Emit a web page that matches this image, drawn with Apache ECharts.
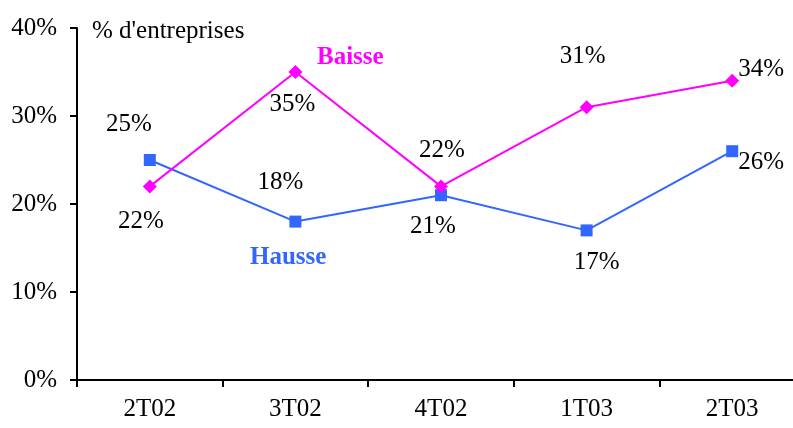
<!DOCTYPE html>
<html>
<head>
<meta charset="utf-8">
<script src="https://cdn.jsdelivr.net/npm/echarts@6/dist/echarts.min.js"></script>
<style>
  html, body { margin: 0; padding: 0; background: #fff; }
  #chart { width: 793px; height: 428px; }
</style>
</head>
<body>
<div id="chart"></div>
<script>
const quarters = ['2T02', '3T02', '4T02', '1T03', '2T03'];
const hausse = [25, 18, 21, 17, 26];
const baisse = [22, 35, 22, 31, 34];
// label offsets [dx, dy] for each point
const hausseLabelOffsets = [[-21, -36], [-15, -39], [-8, 31], [10, 32], [29, 11]];
const baisseLabelOffsets = [[-9, 35], [-3, 32], [1, -36], [-4, -51], [29, -11]];

const font = '"Liberation Serif", "Times New Roman", serif';
const fs = 25;

function makeData(values, offsets) {
  return values.map(function (v, i) {
    return {
      value: v,
      label: {
        show: true,
        position: 'inside',
        offset: offsets[i],
        formatter: '{c}%',
        color: '#000',
        fontFamily: font,
        fontSize: fs
      }
    };
  });
}

const chart = echarts.init(document.getElementById('chart'));

chart.setOption({
  animation: false,
  textStyle: { fontFamily: font },
  title: {
    text: "% d'entreprises",
    left: 87,
    top: 14,
    textStyle: { fontFamily: font, fontSize: fs, fontWeight: 'normal', color: '#000' }
  },
  graphic: [
    {
      type: 'text', left: 317, top: 45,
      style: { text: 'Baisse', fill: '#FF00FF', font: 'bold 25px "Liberation Serif", serif' }
    },
    {
      type: 'text', left: 250, top: 245,
      style: { text: 'Hausse', fill: '#3366FF', font: 'bold 25px "Liberation Serif", serif' }
    }
  ],
  grid: { left: 77, width: 728, top: 28, bottom: 48, outerBoundsMode: 'none', containLabel: false },
  xAxis: {
    type: 'category',
    data: quarters,
    boundaryGap: true,
    axisLine: { lineStyle: { color: '#000', width: 2 } },
    axisTick: { show: true, length: 7, lineStyle: { color: '#000', width: 2 } },
    axisLabel: { color: '#000', fontSize: fs, fontFamily: font, margin: 17 },
    splitLine: { show: false }
  },
  yAxis: {
    type: 'value',
    min: 0,
    max: 40,
    interval: 10,
    axisLine: { show: true, lineStyle: { color: '#000', width: 2 } },
    axisTick: { show: true, length: 7, lineStyle: { color: '#000', width: 2 } },
    axisLabel: { color: '#000', fontSize: fs, fontFamily: font, margin: 20, formatter: '{value}%' },
    splitLine: { show: false }
  },
  series: [
    {
      name: 'Hausse',
      type: 'line',
      data: makeData(hausse, hausseLabelOffsets),
      symbol: 'rect',
      symbolSize: 12,
      itemStyle: { color: '#3366FF' },
      lineStyle: { color: '#3366FF', width: 2 }
    },
    {
      name: 'Baisse',
      type: 'line',
      data: makeData(baisse, baisseLabelOffsets),
      symbol: 'diamond',
      symbolSize: 14,
      itemStyle: { color: '#FF00FF' },
      lineStyle: { color: '#FF00FF', width: 2 }
    }
  ]
});
</script>
</body>
</html>
